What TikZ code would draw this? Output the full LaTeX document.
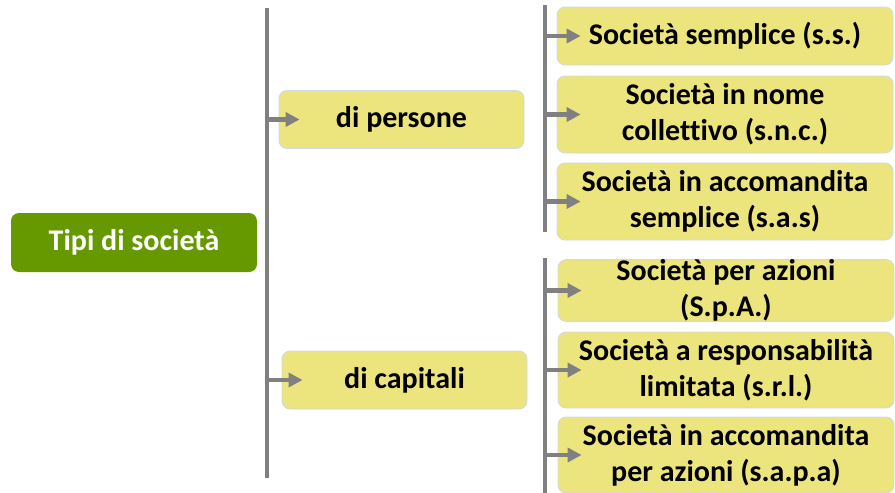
\documentclass[tikz,border=0pt]{standalone}
\usepackage{fontspec}
\setmainfont{Carlito}[Ligatures=NoCommon]
\usetikzlibrary{arrows.meta}

\definecolor{boxyellow}{RGB}{236,228,124}
\definecolor{rootgreen}{RGB}{102,153,0}
\definecolor{edgeblue}{RGB}{205,218,226}
\definecolor{linegray}{RGB}{128,128,128}

\tikzset{
  root/.style={fill=rootgreen, rounded corners=8pt, text=white, font=\fontsize{30}{36}\selectfont\bfseries,
    minimum width=246pt, minimum height=59pt, inner sep=0pt, align=center},
  catbox/.style={fill=boxyellow, draw=edgeblue, line width=0.8pt, rounded corners=8pt,
    font=\fontsize{30}{36}\selectfont\bfseries, minimum width=245pt, minimum height=58pt, inner sep=0pt, align=center},
  typebox/.style={catbox, minimum width=336pt},
  bar/.style={draw=linegray, line width=4.5pt},
  arr/.style={draw=linegray, line width=4.5pt, -{Triangle[length=14pt,width=14pt]}}
}

\begin{document}
\begin{tikzpicture}[x=1pt,y=1pt,yscale=-1]
\useasboundingbox (0,0) rectangle (895,493);

% root
\node[root] (tipi) at (134,242.5) {Tipi di società};

% vertical bars
\coordinate (l1a) at (267,8);
\coordinate (l1b) at (267,478);
\coordinate (l2a) at (545,5);
\coordinate (l2b) at (545,232);
\coordinate (l3a) at (545,258);
\coordinate (l3b) at (545,493);
\draw[bar] (l1a) -- (l1b);
\draw[bar] (l2a) -- (l2b);
\draw[bar] (l3a) -- (l3b);

% categories
\node[catbox] (pers) at (401.5,119.5) {di persone};
\node[catbox] (capi) at (404.5,380) {di capitali};

% types
\node[typebox, minimum height=58pt] (ss) at (725,36) {Società semplice (s.s.)};
\node[typebox, minimum height=77pt] (snc) at (725,114.5) {Società in nome\\collettivo (s.n.c.)};
\node[typebox, minimum height=77pt] (sas) at (725,201.5) {Società in accomandita\\semplice (s.a.s)};
\node[typebox, minimum height=57pt] (spa) at (726,290.5) {Società per azioni\\(S.p.A.)};
\node[typebox, minimum height=76pt] (srl) at (726,370) {Società a responsabilità\\limitata (s.r.l.)};
\node[typebox, minimum height=76pt] (sapa) at (726,455) {Società in accomandita\\per azioni (s.a.p.a)};

% arrows
\draw[arr] (l1a |- pers.west) -- ([xshift=21pt]pers.west);
\draw[arr] (l1a |- capi.west) -- ([xshift=21pt]capi.west);
\foreach \n in {ss,snc,sas,spa,srl,sapa}
  \draw[arr] (l2a |- \n.west) -- ([xshift=24pt]\n.west);

\end{tikzpicture}
\end{document}
